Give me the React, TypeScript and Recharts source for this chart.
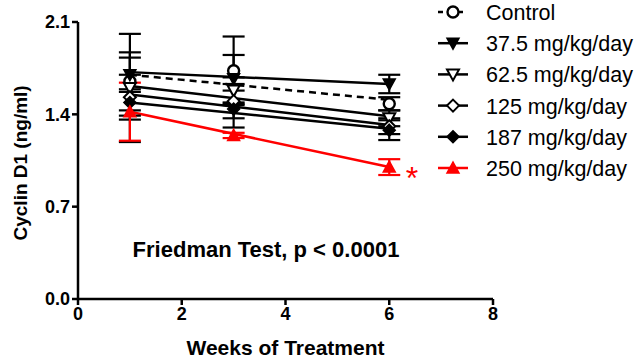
import React from 'react';
import { ComposedChart, Line, XAxis, YAxis, ErrorBar } from 'recharts';

const weeks = [1, 3, 6];
const fitWeeks = [1, 6];
const seriesNames = ['Control', '37.5 mg/kg/day', '62.5 mg/kg/day', '125 mg/kg/day', '187 mg/kg/day', '250 mg/kg/day'];
const controlMean = [1.65, 1.73, 1.48];
const controlErr = [0.22, 0.26, 0.05];
const d375Mean = [1.7, 1.67, 1.63];
const d375Err = [0.13, 0.18, 0.07];
const d625Mean = [1.6, 1.58, 1.37];
const d625Err = [0.41, 0.1, 0.06];
const d125Mean = [1.53, 1.5, 1.31];
const d125Err = [0.17, 0.13, 0.06];
const d187Mean = [1.49, 1.44, 1.28];
const d187Err = [0.1, 0.14, 0.075];
const d250Mean = [1.42, 1.24, 1.0];
const d250Err = [0.22, 0.02, 0.06];
const controlFit = [1.7, 1.51];
const d375Fit = [1.72, 1.63];
const d625Fit = [1.615, 1.385];
const d125Fit = [1.55, 1.32];
const d187Fit = [1.49, 1.29];
const d250Fit = [1.42, 1.0];
const xTicks = [0, 2, 4, 6, 8];
const yTicks = [0, 0.7, 1.4, 2.1];

const means = [controlMean, d375Mean, d625Mean, d125Mean, d187Mean, d250Mean];
const errs = [controlErr, d375Err, d625Err, d125Err, d187Err, d250Err];
const fits = [controlFit, d375Fit, d625Fit, d125Fit, d187Fit, d250Fit];
const colors = ['#000', '#000', '#000', '#000', '#000', '#ff0000'];
const shapes = ['circle', 'triDownFilled', 'triDownOpen', 'diamondOpen', 'diamondFilled', 'triUpFilled'];

function Marker({ shape, cx, cy, color }: { shape: string; cx: number; cy: number; color: string }) {
  const s = 6;
  switch (shape) {
    case 'circle':
      return <circle cx={cx} cy={cy} r={5.5} fill="#fff" stroke={color} strokeWidth={2.4} />;
    case 'triDownFilled':
      return <polygon points={`${cx - s},${cy - s + 1} ${cx + s},${cy - s + 1} ${cx},${cy + s}`} fill={color} stroke={color} strokeWidth={1.5} />;
    case 'triDownOpen':
      return <polygon points={`${cx - s},${cy - s + 1} ${cx + s},${cy - s + 1} ${cx},${cy + s}`} fill="#fff" stroke={color} strokeWidth={2} />;
    case 'diamondOpen':
      return <polygon points={`${cx},${cy - s} ${cx + s},${cy} ${cx},${cy + s} ${cx - s},${cy}`} fill="#fff" stroke={color} strokeWidth={2} />;
    case 'diamondFilled':
      return <polygon points={`${cx},${cy - s} ${cx + s},${cy} ${cx},${cy + s} ${cx - s},${cy}`} fill={color} stroke={color} strokeWidth={1.5} />;
    default:
      return <polygon points={`${cx - s},${cy + s - 1} ${cx + s},${cy + s - 1} ${cx},${cy - s}`} fill={color} stroke={color} strokeWidth={1.5} />;
  }
}

const pointData = means.map((m, i) => weeks.map((w, j) => ({ x: w, y: m[j], e: errs[i][j] })));
const fitData = fits.map((f) => fitWeeks.map((w, j) => ({ x: w, y: f[j] })));

const font = 'Arial, "Liberation Sans", sans-serif';

export default function App() {
  return (
    <div style={{ position: 'absolute', left: 0, top: 0, width: 644, height: 359, background: '#fff', fontFamily: font }}>
      <ComposedChart width={644} height={359} margin={{ top: 22, right: 151, bottom: 30, left: 18 }}>
        <XAxis
          type="number"
          dataKey="x"
          domain={[0, 8]}
          ticks={xTicks}
          allowDuplicatedCategory={false}
          height={30}
          stroke="#000"
          strokeWidth={2.5}
          tickSize={6}
          tick={{ fill: '#000', fontSize: 18, fontWeight: 'bold', fontFamily: font }}
          label={{ value: 'Weeks of Treatment', position: 'insideBottom', offset: -26, fill: '#000', fontSize: 21, fontWeight: 'bold', fontFamily: font }}
        />
        <YAxis
          type="number"
          domain={[0, 2.1]}
          ticks={yTicks}
          width={60}
          stroke="#000"
          strokeWidth={2.5}
          tickSize={6}
          tickFormatter={(v: number) => v.toFixed(1)}
          tick={{ fill: '#000', fontSize: 18, fontWeight: 'bold', fontFamily: font }}
          label={{ value: 'Cyclin D1 (ng/ml)', angle: -90, position: 'insideLeft', offset: 2, dy: 80, fill: '#000', fontSize: 19, fontWeight: 'bold', fontFamily: font }}
        />
        {fitData.map((d, i) => (
          <Line
            key={'fit' + i}
            data={d}
            dataKey="y"
            stroke={colors[i]}
            strokeWidth={2.5}
            strokeDasharray={i === 0 ? '7 5' : undefined}
            dot={false}
            activeDot={false}
            isAnimationActive={false}
          />
        ))}
        {pointData.map((d, i) => (
          <Line
            key={'pts' + i}
            data={d}
            dataKey="y"
            stroke="none"
            isAnimationActive={false}
            activeDot={false}
            dot={(p: any) => <Marker key={p.index} shape={shapes[i]} cx={p.cx} cy={p.cy} color={colors[i]} />}
          >
            <ErrorBar dataKey="e" width={11} stroke={colors[i]} strokeWidth={2.2} direction="y" />
          </Line>
        ))}
      </ComposedChart>
      <svg width={644} height={359} style={{ position: 'absolute', left: 0, top: 0, pointerEvents: 'none' }}>
        <text x={266} y={257} textAnchor="middle" fontFamily={font} fontSize={22} fontWeight="bold" fill="#000">
          Friedman Test, p &lt; 0.0001
        </text>
        <text x={412} y={189} textAnchor="middle" fontFamily={font} fontSize={32} fill="#ff0000">*</text>
        {seriesNames.map((n, i) => {
          const y = 12 + i * 31.2;
          return (
            <g key={n}>
              <line x1={438} x2={468} y1={y} y2={y} stroke={colors[i]} strokeWidth={2.5} strokeDasharray={i === 0 ? '5 5' : undefined} />
              <Marker shape={shapes[i]} cx={453} cy={y} color={colors[i]} />
              <text x={486} y={y + 8} fontFamily={font} fontSize={21.5} fill="#000">{n}</text>
            </g>
          );
        })}
      </svg>
    </div>
  );
}
